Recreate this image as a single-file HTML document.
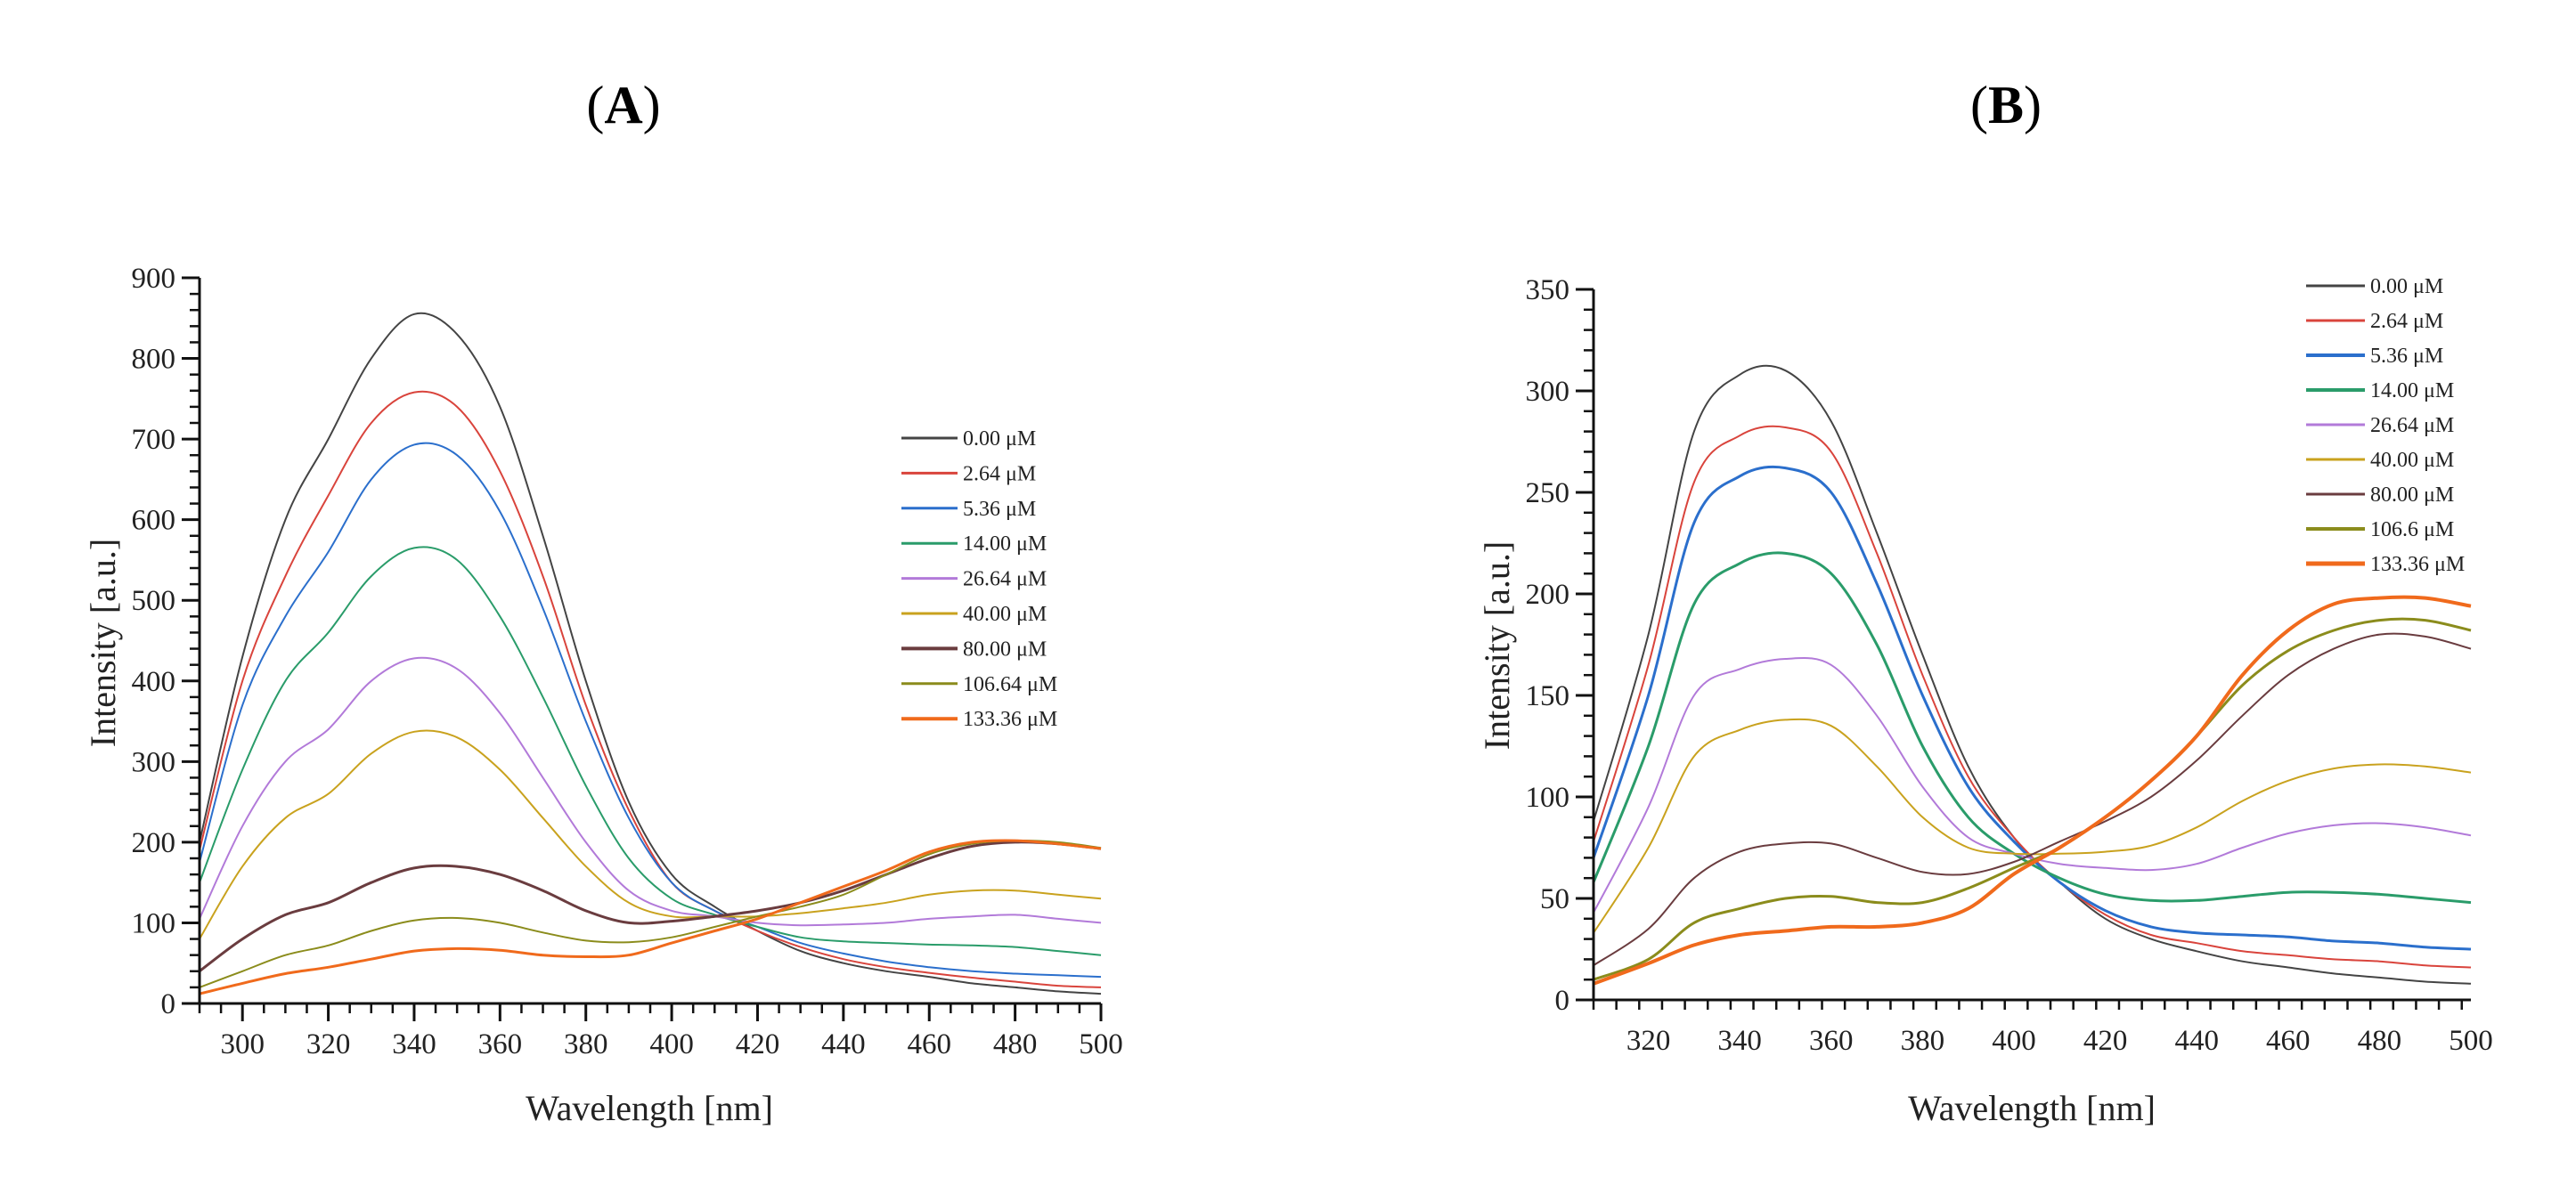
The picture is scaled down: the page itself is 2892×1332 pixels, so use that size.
<!DOCTYPE html>
<html><head><meta charset="utf-8"><style>
html,body{margin:0;padding:0;background:#fff;}
svg{display:block;}
text{font-family:"Liberation Serif",serif;fill:#222;}
</style></head><body>
<svg id="fig" width="2892" height="1332" viewBox="0 0 2892 1332" xmlns="http://www.w3.org/2000/svg">
<text x="700" y="138" text-anchor="middle" font-size="60" style="fill:#000">(<tspan font-weight="bold">A</tspan>)</text>
<text x="2252" y="138" text-anchor="middle" font-size="60" style="fill:#000">(<tspan font-weight="bold">B</tspan>)</text>
</svg>
<script>
const colors = ["#444444","#d9443c","#2b6fcc","#2a9c6a","#b27ad9","#c9a21e","#6a3c3f","#8b8c1c","#f06a1c"];
const widthsA = [2,2,2,2,2,2,3,2,3];
const labelsA = ["0.00 μM","2.64 μM","5.36 μM","14.00 μM","26.64 μM","40.00 μM","80.00 μM","106.64 μM","133.36 μM"];
const labelsB = ["0.00 μM","2.64 μM","5.36 μM","14.00 μM","26.64 μM","40.00 μM","80.00 μM","106.6 μM","133.36 μM"];
const wlA = [290,300,310,320,330,340,350,360,370,380,390,400,410,420,430,440,450,460,470,480,490,500];
const seriesA0 = [200,430,600,700,800,855,830,740,580,400,250,160,120,90,65,50,40,33,25,20,15,12];
const seriesA1 = [190,400,530,630,720,758,740,660,530,370,240,150,115,90,70,55,45,38,32,27,22,20];
const seriesA2 = [175,370,480,560,650,693,680,610,490,350,230,150,115,95,75,62,52,45,40,37,35,33];
const seriesA3 = [150,290,400,460,530,565,550,480,380,270,180,130,110,95,82,77,75,73,72,70,65,60];
const seriesA4 = [105,220,300,340,400,428,415,360,280,200,140,115,108,100,97,98,100,105,108,110,105,100];
const seriesA5 = [80,170,230,260,310,337,330,290,230,170,125,108,108,108,112,118,125,135,140,140,135,130];
const seriesA6 = [40,80,110,125,150,168,170,160,140,115,100,102,108,115,125,140,160,180,195,200,198,192];
const seriesA7 = [20,40,60,72,90,103,106,100,88,78,76,82,95,108,120,135,160,185,198,202,200,193];
const seriesA8 = [12,25,37,45,55,65,68,66,60,58,60,75,90,105,125,145,165,188,200,202,198,192];
const wlB = [308,320,330,340,350,360,370,380,390,400,410,420,430,440,450,460,470,480,490,500];
const seriesB0 = [88,180,280,308,310,285,230,170,115,80,58,40,30,24,19,16,13,11,9,8];
const seriesB1 = [78,165,255,278,282,270,220,160,110,80,58,42,32,28,24,22,20,19,17,16];
const seriesB2 = [70,150,235,258,262,250,205,150,105,78,58,44,36,33,32,31,29,28,26,25];
const seriesB3 = [58,125,195,215,220,210,175,125,90,72,60,52,49,49,51,53,53,52,50,48];
const seriesB4 = [43,95,150,163,168,165,140,105,80,72,67,65,64,67,75,82,86,87,85,81];
const seriesB5 = [33,75,120,133,138,135,115,90,75,72,72,73,76,85,98,108,114,116,115,112];
const seriesB6 = [17,35,60,73,77,77,70,63,62,68,78,88,100,118,140,160,173,180,179,173];
const seriesB7 = [10,20,38,45,50,51,48,48,55,65,75,90,108,130,155,172,182,187,187,182];
const seriesB8 = [8,18,27,32,34,36,36,38,45,62,75,90,108,130,160,182,195,198,198,194];
const xTicksA = [300,320,340,360,380,400,420,440,460,480,500];
const yTicksA = [0,100,200,300,400,500,600,700,800,900];
const xTicksB = [320,340,360,380,400,420,440,460,480,500];
const yTicksB = [0,50,100,150,200,250,300,350];

const NS="http://www.w3.org/2000/svg";
const svg=document.getElementById('fig');
function mk(tag,attrs,parent){const e=document.createElementNS(NS,tag);for(const k in attrs)e.setAttribute(k,attrs[k]);(parent||svg).appendChild(e);return e;}
function pathFrom(pts){
  let d="M"+pts[0][0].toFixed(1)+","+pts[0][1].toFixed(1);
  for(let i=0;i<pts.length-1;i++){
    const p0=pts[Math.max(i-1,0)],p1=pts[i],p2=pts[i+1],p3=pts[Math.min(i+2,pts.length-1)];
    const c1=[p1[0]+(p2[0]-p0[0])/6,p1[1]+(p2[1]-p0[1])/6];
    const c2=[p2[0]-(p3[0]-p1[0])/6,p2[1]-(p3[1]-p1[1])/6];
    d+=" C"+c1[0].toFixed(1)+","+c1[1].toFixed(1)+" "+c2[0].toFixed(1)+","+c2[1].toFixed(1)+" "+p2[0].toFixed(1)+","+p2[1].toFixed(1);
  }
  return d;
}
function panel(cfg){
  const g=mk('g',{});
  
  
  const sx=v=>cfg.x0+(v-cfg.xmin)/(cfg.xmax-cfg.xmin)*(cfg.x1-cfg.x0);
  const sy=v=>cfg.y0-(v-cfg.ymin)/(cfg.ymax-cfg.ymin)*(cfg.y0-cfg.y1);
  // series
  cfg.series.forEach((s,i)=>{
    const pts=cfg.wl.map((w,j)=>[sx(w),sy(s[j])]);
    const p=mk('path',{d:pathFrom(pts),fill:'none',stroke:colors[i],'stroke-width':cfg.widths[i],'stroke-linejoin':'round'},g);
    
    
  });
  // axes
  const ax=mk('g',{stroke:'#111','stroke-width':3},g);
  
  
  mk('line',{x1:cfg.x0,y1:cfg.y1,x2:cfg.x0,y2:cfg.y0},ax);
  mk('line',{x1:cfg.x0,y1:cfg.y0,x2:cfg.x1,y2:cfg.y0},ax);
  for(let v=cfg.xmin;v<=cfg.xmax+0.01;v+=cfg.xminor){
    const major=cfg.xTicks.includes(Math.round(v));
    mk('line',{x1:sx(v),y1:cfg.y0,x2:sx(v),y2:cfg.y0+(major?20:11),'stroke-width':major?3:2.5},ax);
  }
  for(let v=cfg.ymin;v<=cfg.ymax+0.01;v+=cfg.yminor){
    const major=cfg.yTicks.includes(Math.round(v));
    mk('line',{x1:cfg.x0,y1:sy(v),x2:cfg.x0-(major?20:11),y2:sy(v),'stroke-width':major?3:2.5},ax);
  }
  cfg.xTicks.forEach(v=>{
    const t=mk('text',{x:sx(v),y:cfg.y0+56,'text-anchor':'middle','font-size':33},g);
    
    
    t.textContent=v;
  });
  cfg.yTicks.forEach(v=>{
    const t=mk('text',{x:cfg.x0-27,y:sy(v)+11,'text-anchor':'end','font-size':33},g);
    
    
    t.textContent=v;
  });
  const xt=mk('text',{x:cfg.xtx,y:1258,'text-anchor':'middle','font-size':40},g);
  
  
  xt.textContent='Wavelength [nm]';
  const yt=mk('text',{x:0,y:0,'text-anchor':'middle','font-size':40,transform:'translate('+(cfg.ytx+14)+','+cfg.yty+') rotate(-90)'},g);
  
  
  yt.textContent='Intensity [a.u.]';
  // legend
  const lg=mk('g',{},g);
  
  
  cfg.labels.forEach((l,i)=>{
    const y=cfg.ly+i*cfg.lsp;
    const e=mk('g',{},lg);
    
    
    mk('line',{x1:cfg.lx,y1:y,x2:cfg.lx+cfg.llen,y2:y,stroke:colors[i],'stroke-width':cfg.widths[i]+1},e);
    const t=mk('text',{x:cfg.lx+cfg.llen+6,y:y+8,'font-size':24},e);
    t.textContent=l;
  });
}
panel({name:'chart-a',x0:224,x1:1236,y0:1127,y1:312,xmin:290,xmax:500,ymin:0,ymax:900,xminor:5,yminor:20,
  xTicks:xTicksA,yTicks:yTicksA,wl:wlA,series:[seriesA0,seriesA1,seriesA2,seriesA3,seriesA4,seriesA5,seriesA6,seriesA7,seriesA8],
  widths:widthsA,labels:labelsA,xtx:729,ytx:115,yty:722,lx:1012,llen:63,ly:492,lsp:39.4});
panel({name:'chart-b',x0:1789,x1:2774,y0:1123,y1:325,xmin:308,xmax:500,ymin:0,ymax:350,xminor:5,yminor:10,
  xTicks:xTicksB,yTicks:yTicksB,wl:wlB,series:[seriesB0,seriesB1,seriesB2,seriesB3,seriesB4,seriesB5,seriesB6,seriesB7,seriesB8],
  widths:[2,2,3,3,2,2,2,3,4],labels:labelsB,xtx:2281,ytx:1680,yty:725,lx:2589,llen:66,ly:321,lsp:39});
</script>
</body></html>
